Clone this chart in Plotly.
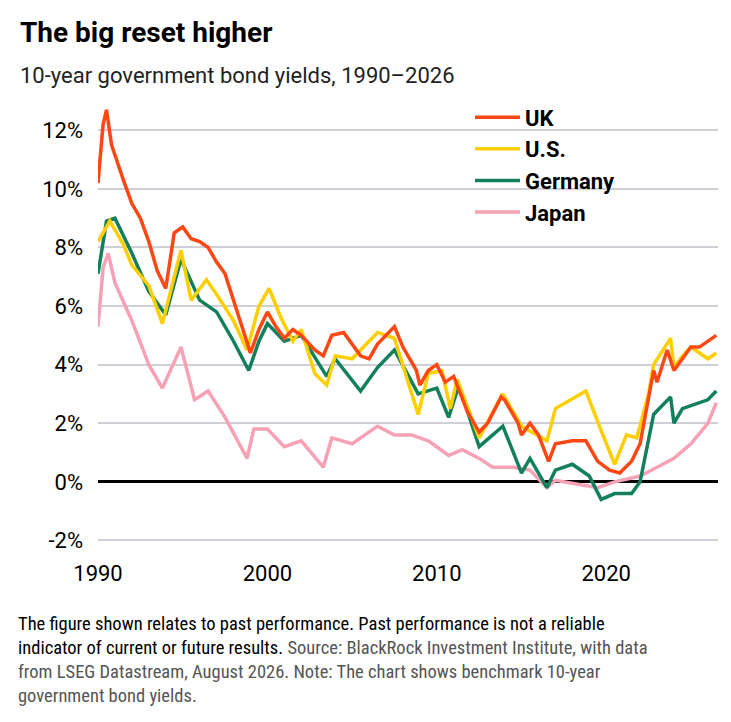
import plotly.graph_objects as go

uk_x = [1990.0,1990.3,1990.5,1990.8,1991.5,1992,1992.5,1993,1993.5,1994,1994.5,1995,1995.5,1996,1996.5,1997,1997.5,1998,1998.8,1999,1999.5,2000,2000.5,2001,2001.5,2002,2002.8,2003.3,2003.8,2004.5,2005.5,2006,2006.5,2007.5,2008,2008.8,2009,2009.5,2010,2010.5,2011,2011.8,2012.5,2013,2013.8,2014,2014.8,2015,2015.5,2016,2016.6,2017,2018,2018.8,2019.5,2020.2,2020.8,2021.5,2022,2022.8,2023,2023.6,2024,2024.5,2025,2025.5,2026,2026.5]
uk_y = [10.2,12.2,12.7,11.5,10.3,9.5,9.0,8.2,7.2,6.6,8.5,8.7,8.3,8.2,8.0,7.5,7.1,6.2,4.7,4.4,5.2,5.8,5.3,4.9,5.2,5.0,4.5,4.3,5.0,5.1,4.3,4.2,4.7,5.3,4.6,3.8,3.3,3.8,4.0,3.4,3.6,2.4,1.7,2.0,2.9,2.8,2.0,1.6,2.0,1.6,0.7,1.3,1.4,1.4,0.7,0.4,0.3,0.7,1.3,3.8,3.4,4.5,3.8,4.2,4.6,4.6,4.8,5.0]
us_x = [1990,1990.7,1991.5,1992,1993,1993.8,1994.9,1995.5,1996.4,1997,1998,1998.8,1999.5,2000.1,2000.8,2001.5,2002,2002.8,2003.5,2004,2005,2006.5,2007.5,2008.9,2009.5,2010.3,2010.8,2011.2,2012.5,2013.9,2015,2016.5,2017,2018.8,2019.8,2020.5,2021.2,2021.8,2022.5,2022.8,2023.8,2024,2024.5,2025,2026,2026.5]
us_y = [8.2,8.9,8.1,7.4,6.7,5.4,7.9,6.2,6.9,6.4,5.5,4.5,6.0,6.6,5.6,4.8,5.2,3.7,3.3,4.3,4.2,5.1,4.9,2.3,3.7,3.8,2.5,3.5,1.5,3.0,1.9,1.4,2.5,3.1,1.6,0.6,1.6,1.5,3.0,4.0,4.9,3.9,4.3,4.6,4.2,4.4]
de_x = [1990,1990.5,1991,1992,1993,1994,1994.9,1995.5,1996,1997,1998,1998.9,1999.5,2000,2001,2002,2003.5,2004,2005.5,2006.5,2007.5,2008.9,2010,2010.7,2011.3,2012.5,2013.9,2015,2015.5,2016.5,2017,2018,2019,2019.7,2020.5,2021.5,2022,2022.8,2023.5,2023.8,2024,2024.5,2025,2026,2026.5]
de_y = [7.1,8.9,9.0,7.8,6.5,5.7,7.6,6.8,6.2,5.8,4.8,3.8,4.8,5.4,4.8,5.0,3.6,4.2,3.1,3.9,4.5,3.0,3.2,2.2,3.3,1.2,1.9,0.3,0.8,-0.2,0.4,0.6,0.2,-0.6,-0.4,-0.4,0.0,2.3,2.7,2.9,2.0,2.5,2.6,2.8,3.1]
jp_x = [1990,1990.3,1990.6,1991,1992,1993,1993.8,1994.9,1995.7,1996.5,1997.5,1998.8,1999.2,2000,2001,2002,2003.3,2003.8,2005,2006.5,2007.5,2008.5,2009.5,2010.7,2011.5,2012.5,2013.3,2014.5,2015.5,2016.5,2017,2019.5,2020.5,2022,2023,2024,2025,2026,2026.5]
jp_y = [5.3,7.3,7.8,6.8,5.5,4.0,3.2,4.6,2.8,3.1,2.2,0.8,1.8,1.8,1.2,1.4,0.5,1.5,1.3,1.9,1.6,1.6,1.4,0.9,1.1,0.8,0.5,0.5,0.4,-0.2,0.05,-0.2,0.0,0.2,0.5,0.8,1.3,2.0,2.7]

series = [("Japan", jp_x, jp_y, "#f7a1b5"), ("Germany", de_x, de_y, "#12805c"),
          ("U.S.", us_x, us_y, "#ffce00"), ("UK", uk_x, uk_y, "#ff4713")]
year_ticks = [1990, 2000, 2010, 2020]
pct_ticks = [-2, 0, 2, 4, 6, 8, 10, 12]

fig = go.Figure()
for name, x, y, c in series:
    fig.add_trace(go.Scatter(x=x, y=y, name=name, mode="lines", line=dict(color=c, width=3.5)))

fig.update_layout(
    width=731, height=722, paper_bgcolor="white", plot_bgcolor="white",
    margin=dict(l=90, r=21, t=93, b=172),
    font=dict(family="Roboto", color="#000", size=20),
    showlegend=True,
    legend=dict(x=0.6, y=1.01, xanchor="left", yanchor="top", traceorder="reversed",
                font=dict(size=22, family="Roboto", weight="bold"), itemwidth=45, tracegroupgap=0,
                bgcolor="rgba(0,0,0,0)"),
    xaxis=dict(range=[1990, 2026.6], tickvals=year_ticks, ticktext=[str(v) for v in year_ticks],
               showgrid=False, zeroline=False, ticks="", tickfont=dict(size=22)),
    yaxis=dict(range=[-2.6, 13], tickvals=pct_ticks, ticktext=[f"{v}%" for v in pct_ticks],
               showgrid=True, gridcolor="#cfcfd8", gridwidth=1.5, zeroline=True,
               zerolinecolor="#000", zerolinewidth=3, ticks="", tickfont=dict(size=22),
               ticklabelstandoff=14),
)
fig.add_annotation(text="<b>The big reset higher</b>", xref="paper", yref="paper", x=-0.129, y=1.0,
                   xanchor="left", yanchor="bottom", yshift=50, showarrow=False, font=dict(size=28))
fig.add_annotation(text="10-year government bond yields, 1990–2026", xref="paper", yref="paper",
                   x=-0.129, y=1.0, xanchor="left", yanchor="bottom", yshift=11, showarrow=False,
                   font=dict(size=22, color="#222"))
fig.add_annotation(
    text="The figure shown relates to past performance. Past performance is not a reliable<br>"
         "indicator of current or future results. <span style='color:#555'>Source: BlackRock Investment Institute, with data<br>"
         "from LSEG Datastream, August 2026. Note: The chart shows benchmark 10-year<br>"
         "government bond yields.</span>",
    xref="paper", yref="paper", x=-0.132, y=0, xanchor="left", yanchor="top", yshift=-53,
    align="left", showarrow=False, font=dict(size=18.5, family="Roboto Condensed, Roboto", color="#000"))
fig.write_html("out.html")
